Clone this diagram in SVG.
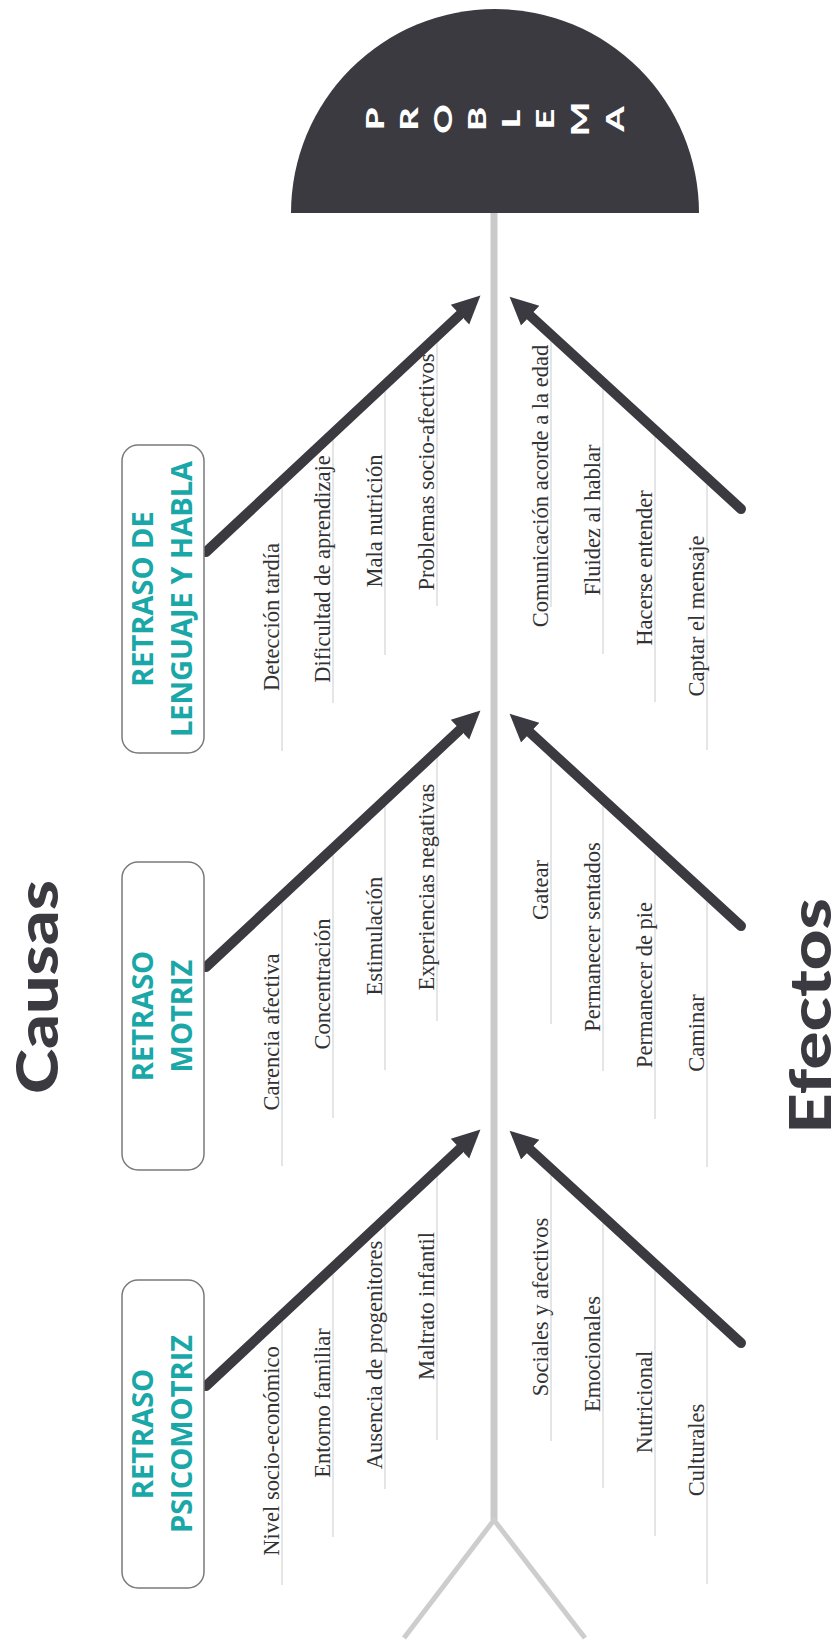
<svg xmlns="http://www.w3.org/2000/svg" width="840" height="1642" viewBox="0 0 840 1642">
<style>
.bone{stroke:#3c3a41;stroke-width:10;stroke-linecap:round;fill:none}
.sub{stroke:#d4d4d4;stroke-width:1.2}
.lbl{font-family:"Liberation Serif","Times New Roman",serif;font-size:22.5px;fill:#333;text-anchor:middle}
.box{fill:#fff;stroke:#7a7a7a;stroke-width:1.5}
.bt{font-family:"Open Sans","Liberation Sans",sans-serif;font-weight:700;font-size:29px;fill:#19a7a8;text-anchor:middle}
.big{font-family:Lato,"Liberation Sans",sans-serif;font-weight:900;font-size:58px;fill:#3c3a41;text-anchor:middle}
.pl{font-family:Lato,"Liberation Sans",sans-serif;font-weight:900;font-size:25px;fill:#fff;text-anchor:middle}
</style>
<defs>
<marker id="ah" markerUnits="userSpaceOnUse" markerWidth="30" markerHeight="30" viewBox="0 -15 30 30" refX="0" refY="0" orient="auto">
<path d="M0,-13.5 L28,0 L0,13.5 Z" fill="#3c3a41"/>
</marker>
</defs>
<rect width="840" height="1642" fill="#fff"/>

<g id="spine">
<line x1="494" y1="210" x2="494" y2="1520" stroke="#c9c9c9" stroke-width="7"/>
<polyline points="404,1638 494,1520 585,1638" fill="none" stroke="#cdcdcd" stroke-width="5" stroke-linejoin="round"/>
</g>

<g id="head">
<path d="M291,213 A204,204 0 0 1 699,213 Z" fill="#3c3a41"/>
<g class="pl">
<text transform="translate(375,119) rotate(-90) scale(1.45,1)" y="9">P</text>
<text transform="translate(409,119) rotate(-90) scale(1.45,1)" y="9">R</text>
<text transform="translate(443,119) rotate(-90) scale(1.45,1)" y="9">O</text>
<text transform="translate(477,119) rotate(-90) scale(1.45,1)" y="9">B</text>
<text transform="translate(511,119) rotate(-90) scale(1.45,1)" y="9">L</text>
<text transform="translate(545,119) rotate(-90) scale(1.45,1)" y="9">E</text>
<text transform="translate(580,119) rotate(-90) scale(1.45,1)" y="9">M</text>
<text transform="translate(615,119) rotate(-90) scale(1.45,1)" y="9">A</text>
</g>
</g>

<g id="sublines">
<line class="sub" x1="282" y1="481" x2="282" y2="751"/>
<line class="sub" x1="333" y1="433" x2="333" y2="703"/>
<line class="sub" x1="385" y1="385" x2="385" y2="655"/>
<line class="sub" x1="437" y1="336" x2="437" y2="606"/>
<line class="sub" x1="282" y1="896" x2="282" y2="1166"/>
<line class="sub" x1="333" y1="848" x2="333" y2="1118"/>
<line class="sub" x1="385" y1="800" x2="385" y2="1070"/>
<line class="sub" x1="437" y1="751" x2="437" y2="1021"/>
<line class="sub" x1="282" y1="1315" x2="282" y2="1585"/>
<line class="sub" x1="333" y1="1267" x2="333" y2="1537"/>
<line class="sub" x1="385" y1="1219" x2="385" y2="1489"/>
<line class="sub" x1="437" y1="1170" x2="437" y2="1440"/>
<line class="sub" x1="551" y1="335" x2="551" y2="607"/>
<line class="sub" x1="603" y1="382" x2="603" y2="654"/>
<line class="sub" x1="655" y1="430" x2="655" y2="702"/>
<line class="sub" x1="707" y1="478" x2="707" y2="750"/>
<line class="sub" x1="551" y1="752" x2="551" y2="1024"/>
<line class="sub" x1="603" y1="799" x2="603" y2="1071"/>
<line class="sub" x1="655" y1="847" x2="655" y2="1119"/>
<line class="sub" x1="707" y1="895" x2="707" y2="1167"/>
<line class="sub" x1="551" y1="1169" x2="551" y2="1441"/>
<line class="sub" x1="603" y1="1216" x2="603" y2="1488"/>
<line class="sub" x1="655" y1="1264" x2="655" y2="1536"/>
<line class="sub" x1="707" y1="1312" x2="707" y2="1584"/>
</g>

<g id="connectors">
<line class="bone" x1="206" y1="552" x2="460" y2="314.7" marker-end="url(#ah)"/>
<line class="bone" x1="206" y1="967" x2="460" y2="729.7" marker-end="url(#ah)"/>
<line class="bone" x1="206" y1="1386" x2="460" y2="1148.7" marker-end="url(#ah)"/>
<line class="bone" x1="741" y1="509" x2="530.2" y2="315.6" marker-end="url(#ah)"/>
<line class="bone" x1="741" y1="926" x2="530.2" y2="732.6" marker-end="url(#ah)"/>
<line class="bone" x1="741" y1="1343" x2="530.2" y2="1149.6" marker-end="url(#ah)"/>
</g>

<g id="labels" class="lbl">
<text x="279" y="617" transform="rotate(-90 279 617)">Detección tardía</text>
<text x="330" y="569" transform="rotate(-90 330 569)">Dificultad de aprendizaje</text>
<text x="382" y="521" transform="rotate(-90 382 521)">Mala nutrición</text>
<text x="434" y="472" transform="rotate(-90 434 472)">Problemas socio-afectivos</text>
<text x="279" y="1032" transform="rotate(-90 279 1032)">Carencia afectiva</text>
<text x="330" y="984" transform="rotate(-90 330 984)">Concentración</text>
<text x="382" y="936" transform="rotate(-90 382 936)">Estimulación</text>
<text x="434" y="887" transform="rotate(-90 434 887)">Experiencias negativas</text>
<text x="279" y="1451" transform="rotate(-90 279 1451)">Nivel socio-económico</text>
<text x="330" y="1403" transform="rotate(-90 330 1403)">Entorno familiar</text>
<text x="382" y="1355" transform="rotate(-90 382 1355)">Ausencia de progenitores</text>
<text x="434" y="1306" transform="rotate(-90 434 1306)">Maltrato infantil</text>
<text x="548" y="486" transform="rotate(-90 548 486)">Comunicación acorde a la edad</text>
<text x="600" y="520" transform="rotate(-90 600 520)">Fluidez al hablar</text>
<text x="652" y="568" transform="rotate(-90 652 568)">Hacerse entender</text>
<text x="704" y="616" transform="rotate(-90 704 616)">Captar el mensaje</text>
<text x="548" y="890" transform="rotate(-90 548 890)">Gatear</text>
<text x="600" y="937" transform="rotate(-90 600 937)">Permanecer sentados</text>
<text x="652" y="985" transform="rotate(-90 652 985)">Permanecer de pie</text>
<text x="704" y="1033" transform="rotate(-90 704 1033)">Caminar</text>
<text x="548" y="1307" transform="rotate(-90 548 1307)">Sociales y afectivos</text>
<text x="600" y="1354" transform="rotate(-90 600 1354)">Emocionales</text>
<text x="652" y="1402" transform="rotate(-90 652 1402)">Nutricional</text>
<text x="704" y="1450" transform="rotate(-90 704 1450)">Culturales</text>
</g>

<g id="box-lenguaje">
<rect class="box" x="122" y="445" width="82" height="308" rx="16"/>
<text class="bt" x="153" y="599" transform="rotate(-90 153 599)">RETRASO DE</text>
<text class="bt" x="192" y="599" transform="rotate(-90 192 599)">LENGUAJE Y HABLA</text>
</g>
<g id="box-motriz">
<rect class="box" x="122" y="862" width="82" height="308" rx="16"/>
<text class="bt" x="153" y="1016" transform="rotate(-90 153 1016)">RETRASO</text>
<text class="bt" x="192" y="1016" transform="rotate(-90 192 1016)">MOTRIZ</text>
</g>
<g id="box-psicomotriz">
<rect class="box" x="122" y="1280" width="82" height="308" rx="16"/>
<text class="bt" x="153" y="1434" transform="rotate(-90 153 1434)">RETRASO</text>
<text class="bt" x="192" y="1434" transform="rotate(-90 192 1434)">PSICOMOTRIZ</text>
</g>

<g id="titles">
<text class="big" x="58" y="987" transform="rotate(-90 58 987)" textLength="214" lengthAdjust="spacingAndGlyphs">Causas</text>
<text class="big" x="831" y="1016" transform="rotate(-90 831 1016)" textLength="236" lengthAdjust="spacingAndGlyphs">Efectos</text>
</g>
</svg>
